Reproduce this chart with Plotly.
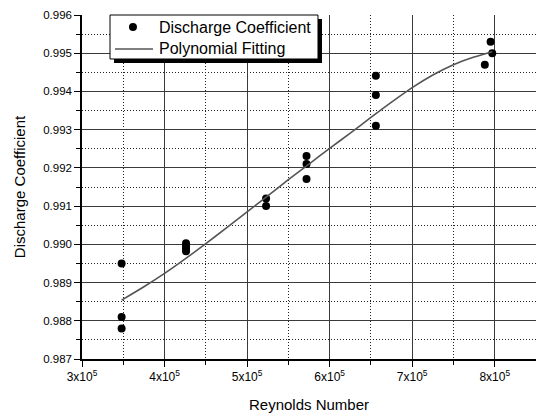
import plotly.graph_objects as go

# Measured data (Reynolds number, discharge coefficient)
re_pts = [3.48e5, 3.48e5, 3.48e5,
          4.26e5, 4.26e5, 4.26e5, 4.26e5,
          5.23e5, 5.23e5,
          5.72e5, 5.72e5, 5.72e5,
          6.56e5, 6.56e5, 6.56e5,
          7.88e5, 7.95e5, 7.97e5]
cd_pts = [0.9895, 0.9881, 0.9878,
          0.99003, 0.98995, 0.98988, 0.98982,
          0.9912, 0.9910,
          0.99231, 0.99210, 0.99171,
          0.99441, 0.99391, 0.99310,
          0.99470, 0.99530, 0.99500]

# Polynomial fitting curve
fit_re = [3.48e5, 3.75e5, 4.0e5, 4.25e5, 4.5e5, 4.75e5, 5.0e5, 5.25e5, 5.5e5, 5.75e5,
          6.0e5, 6.25e5, 6.5e5, 6.75e5, 7.0e5, 7.25e5, 7.5e5, 7.75e5, 7.97e5]
fit_cd = [0.98854, 0.98889, 0.98924, 0.98962, 0.99002, 0.99043, 0.99085, 0.99127, 0.99169, 0.99210,
          0.99251, 0.99291, 0.99332, 0.99372, 0.99410, 0.99443, 0.99470, 0.99490, 0.99504]

x_ticks = [3e5, 4e5, 5e5, 6e5, 7e5, 8e5]
x_labels = ["3x10<sup>5</sup>", "4x10<sup>5</sup>", "5x10<sup>5</sup>",
            "6x10<sup>5</sup>", "7x10<sup>5</sup>", "8x10<sup>5</sup>"]
x_minor = [3.5e5, 4.5e5, 5.5e5, 6.5e5, 7.5e5]
y_ticks = [0.987, 0.988, 0.989, 0.990, 0.991, 0.992, 0.993, 0.994, 0.995, 0.996]
y_labels = ["0.987", "0.988", "0.989", "0.990", "0.991", "0.992", "0.993", "0.994", "0.995", "0.996"]
y_minor = [0.9875, 0.9885, 0.9895, 0.9905, 0.9915, 0.9925, 0.9935, 0.9945, 0.9955]

series_names = ["Discharge Coefficient", "Polynomial Fitting"]

FONT = "Liberation Sans, Arial, sans-serif"
LINE_COLOR = "#555555"

fig = go.Figure()
fig.add_trace(go.Scatter(
    x=re_pts, y=cd_pts, mode="markers", name=series_names[0],
    marker=dict(color="black", size=8), showlegend=False,
))
fig.add_trace(go.Scatter(
    x=fit_re, y=fit_cd, mode="lines", name=series_names[1],
    line=dict(color=LINE_COLOR, width=1.6, shape="spline", smoothing=0.8), showlegend=False,
))

axis_common = dict(
    showline=True, linecolor="black", linewidth=1.5,
    ticks="outside", ticklen=6, tickcolor="black", tickwidth=1.2,
    showgrid=True, gridcolor="#3a3a3a", gridwidth=1, griddash="solid",
    zeroline=False, mirror=False,
)

fig.update_xaxes(
    range=[3e5, 8.5e5], tickvals=x_ticks, ticktext=x_labels,
    tickfont=dict(family=FONT, size=12, color="black"),
    title=dict(text="Reynolds Number", font=dict(family=FONT, size=15, color="black"), standoff=16),
    minor=dict(tickvals=x_minor, ticks="outside", ticklen=4, tickcolor="black",
               showgrid=True, gridcolor="#222222", griddash="1px,2px", gridwidth=1),
    **axis_common,
)
fig.update_yaxes(
    range=[0.987, 0.996], tickvals=y_ticks, ticktext=y_labels,
    tickfont=dict(family=FONT, size=11.5, color="black"),
    title=dict(text="Discharge Coefficient", font=dict(family=FONT, size=15, color="black"), standoff=14),
    minor=dict(tickvals=y_minor, ticks="outside", ticklen=4, tickcolor="black",
               showgrid=True, gridcolor="#222222", griddash="1px,2px", gridwidth=1),
    **axis_common,
)

# Hand-drawn legend box (with drop shadow) in paper coordinates
fig.add_shape(type="rect", xref="paper", yref="paper",
              x0=0.0705, x1=0.5286, y0=0.8605, y1=0.9884,
              fillcolor="black", line=dict(width=0), layer="above")
fig.add_shape(type="rect", xref="paper", yref="paper",
              x0=0.0617, x1=0.5198, y0=0.8721, y1=1.0,
              fillcolor="white", line=dict(color="black", width=1), layer="above")
fig.add_shape(type="circle", xref="paper", yref="paper",
              x0=0.1035, x1=0.1211, y0=0.9535, y1=0.9767,
              fillcolor="black", line=dict(color="black", width=0), layer="above")
fig.add_shape(type="line", xref="paper", yref="paper",
              x0=0.0727, x1=0.1564, y0=0.9012, y1=0.9012,
              line=dict(color=LINE_COLOR, width=1.6), layer="above")
for name, yy in zip(series_names, [0.9651, 0.9012]):
    fig.add_annotation(text=name, xref="paper", yref="paper", x=0.1652, y=yy,
                       xanchor="left", yanchor="middle", showarrow=False,
                       font=dict(family=FONT, size=16, color="black"))

fig.update_layout(
    width=536, height=416,
    margin=dict(l=82, r=0, t=15, b=57),
    paper_bgcolor="white", plot_bgcolor="white",
    showlegend=False,
)

fig.write_html("out.html", config={"displayModeBar": False},
               post_script="document.body.style.margin='0px';")
